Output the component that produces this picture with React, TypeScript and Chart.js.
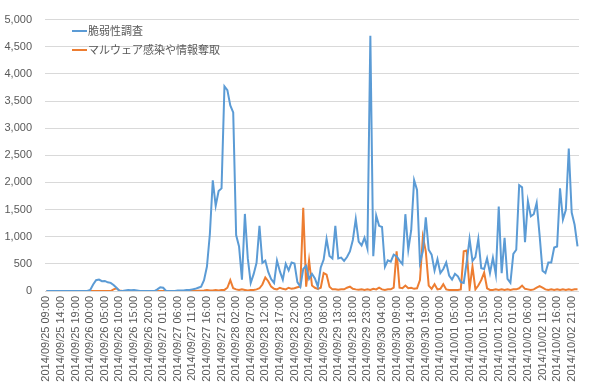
import React, { useEffect, useRef } from 'react';
import { Chart, registerables } from 'chart.js';

Chart.register(...registerables);

// Hourly categories from 2014/09/25 09:00 to 2014/10/02 23:00
const startTime = Date.UTC(2014, 8, 25, 9, 0);
const hourCount = 183;
const pad2 = (n: number) => (n < 10 ? '0' + n : '' + n);
const categories: string[] = [];
for (let i = 0; i < hourCount; i++) {
  const d = new Date(startTime + i * 3600000);
  categories.push(
    `${d.getUTCFullYear()}/${pad2(d.getUTCMonth() + 1)}/${pad2(d.getUTCDate())} ${pad2(d.getUTCHours())}:${pad2(d.getUTCMinutes())}`
  );
}

const seriesNames = ['脆弱性調査', 'マルウェア感染や情報奪取'];

const vulnScan = [
  0, 0, 0, 0, 0, 0, 0, 0, 0, 0, 0, 0, 0, 0, 0, 20, 120, 200, 210, 180,
  185, 160, 150, 110, 60, 0, 0, 10, 20, 15, 20, 10, 0, 0, 0, 0, 0, 0, 30, 70,
  60, 0, 0, 0, 0, 10, 10, 10, 20, 20, 30, 40, 60, 80, 200, 450, 1050, 2040, 1570, 1840,
  1890, 3770, 3700, 3420, 3290, 1030, 820, 210, 1420, 600, 150, 310, 520, 1200, 520, 560, 350, 220, 150, 560,
  360, 210, 500, 380, 525, 505, 165, 80, 405, 465, 225, 315, 230, 80, 435, 580, 960, 645, 600, 1200,
  600, 615, 555, 625, 730, 940, 1325, 910, 840, 980, 780, 4700, 640, 1390, 1200, 1180, 445, 565, 540, 670,
  640, 560, 495, 1415, 760, 1120, 2040, 1860, 525, 730, 1355, 760, 670, 375, 585, 330, 405, 525, 285, 210,
  315, 270, 165, 150, 525, 960, 555, 625, 960, 420, 405, 600, 330, 610, 305, 1555, 330, 980, 225, 150,
  685, 760, 1950, 1910, 900, 1655, 1375, 1415, 1625, 1030, 375, 330, 525, 525, 800, 820, 1890, 1315, 1495, 2625,
  1445, 1220, 820,
];

const malware = [
  0, 0, 0, 0, 0, 0, 0, 0, 0, 0, 0, 0, 0, 0, 0, 0, 0, 0, 0, 0,
  0, 0, 0, 30, 50, 10, 0, 0, 0, 0, 0, 0, 0, 0, 0, 0, 0, 0, 0, 0,
  0, 0, 0, 0, 0, 0, 0, 0, 0, 0, 0, 0, 5, 5, 10, 20, 10, 10, 20, 10,
  20, 20, 60, 200, 50, 30, 20, 30, 20, 10, 20, 20, 30, 50, 120, 250, 180, 80, 40, 30,
  60, 40, 30, 60, 40, 50, 70, 80, 1535, 80, 565, 100, 60, 40, 60, 330, 300, 80, 30, 30,
  25, 30, 30, 60, 80, 40, 30, 25, 30, 20, 30, 20, 40, 30, 60, 30, 20, 30, 30, 60,
  730, 60, 50, 100, 50, 60, 40, 50, 200, 1000, 730, 100, 40, 125, 30, 40, 125, 30, 20, 20,
  20, 20, 30, 730, 745, 40, 450, 30, 100, 200, 340, 50, 20, 20, 30, 20, 30, 20, 30, 20,
  30, 30, 50, 100, 40, 30, 20, 30, 60, 90, 60, 30, 20, 30, 20, 30, 20, 30, 20, 30,
  20, 30, 30,
];

const seriesColors = ['#5B9BD5', '#ED7D31'];
const yMin = 0;
const yMax = 5000;
const yStep = 500;
const labelEvery = 5;

const legendPlugin = {
  id: 'insideLegend',
  afterDraw(chart: any) {
    const ctx = chart.ctx;
    ctx.save();
    ctx.font = '11px "Noto Sans CJK JP", sans-serif';
    ctx.textBaseline = 'middle';
    ctx.textAlign = 'left';
    const rows = [31, 50];
    seriesNames.forEach((name, k) => {
      const y = rows[k];
      ctx.strokeStyle = seriesColors[k];
      ctx.lineWidth = 2;
      ctx.beginPath();
      ctx.moveTo(72, y);
      ctx.lineTo(87, y);
      ctx.stroke();
      ctx.fillStyle = '#595959';
      ctx.fillText(name, 88, y);
    });
    ctx.restore();
  },
};

export default function App() {
  const ref = useRef<HTMLCanvasElement | null>(null);
  useEffect(() => {
    document.body.style.margin = '0';
    if (!ref.current) return;
    const chart = new Chart(ref.current, {
      type: 'line',
      data: {
        labels: categories,
        datasets: [
          {
            label: seriesNames[0],
            data: vulnScan,
            borderColor: seriesColors[0],
            backgroundColor: seriesColors[0],
            borderWidth: 2,
            pointRadius: 0,
            tension: 0,
          },
          {
            label: seriesNames[1],
            data: malware,
            borderColor: seriesColors[1],
            backgroundColor: seriesColors[1],
            borderWidth: 2,
            pointRadius: 0,
            tension: 0,
          },
        ],
      },
      options: {
        responsive: false,
        animation: false,
        layout: { padding: { top: 11, right: 8, left: 0, bottom: 0 } },
        plugins: {
          legend: { display: false },
          tooltip: { enabled: false },
        },
        scales: {
          x: {
            type: 'category',
            offset: true,
            grid: { display: false, drawTicks: false },
            border: { display: true, color: '#d9d9d9', width: 1 },
            ticks: {
              autoSkip: false,
              minRotation: 90,
              maxRotation: 90,
              padding: 5,
              color: '#595959',
              font: { family: '"Liberation Sans", Arial, sans-serif', size: 11 },
              callback: (_v: any, index: number) =>
                index % labelEvery === 0 ? categories[index] : null,
            },
            afterFit: (scale: any) => {
              scale.height = 95;
            },
          },
          y: {
            min: yMin,
            max: yMax,
            grid: { color: '#d9d9d9', lineWidth: 1, drawTicks: false },
            border: { display: false },
            ticks: {
              stepSize: yStep,
              padding: 13,
              color: '#595959',
              font: { family: '"Liberation Sans", Arial, sans-serif', size: 11 },
              callback: (v: any) => Number(v).toLocaleString('en-US'),
            },
            afterFit: (scale: any) => {
              scale.width = 45;
            },
          },
        },
      },
      plugins: [legendPlugin],
    });
    return () => chart.destroy();
  }, []);
  return (
    <div style={{ width: 590, height: 386 }}>
      <canvas ref={ref} width={590} height={386} />
    </div>
  );
}
